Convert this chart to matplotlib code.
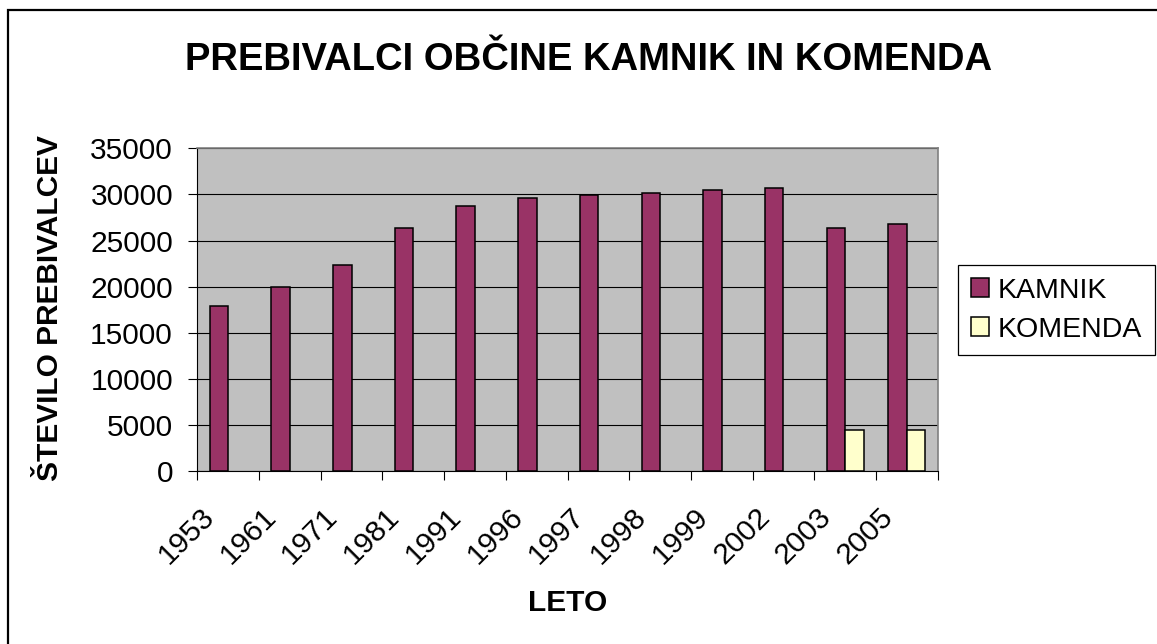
import numpy as np
import matplotlib
matplotlib.use("Agg")
import matplotlib.pyplot as plt
from matplotlib.transforms import blended_transform_factory, ScaledTranslation
from matplotlib.patches import Rectangle

years = ["1953", "1961", "1971", "1981", "1991", "1996", "1997", "1998", "1999", "2002", "2003", "2005"]
kamnik = [17900, 19950, 22350, 26400, 28700, 29650, 29900, 30100, 30500, 30700, 26400, 26800]
komenda = [np.nan, np.nan, np.nan, np.nan, np.nan, np.nan, np.nan, np.nan, np.nan, np.nan, 4450, 4450]
yticks = [0, 5000, 10000, 15000, 20000, 25000, 30000, 35000]

plt.rcParams['font.family'] = ['Liberation Sans', 'DejaVu Sans']

W, H = 1157, 644
fig = plt.figure(figsize=(W / 100, H / 100), dpi=100)
fig.patch.set_facecolor('white')

# figure border
fig.add_artist(Rectangle((8 / W, -0.05), 1.1, 1 - 10 / H + 0.05, transform=fig.transFigure,
                         fill=False, edgecolor='black', linewidth=1.6))

ax = fig.add_axes([197.3 / W, 1 - 471 / H, (937.7 - 197.3) / W, (471 - 148.3) / H])
ax.set_facecolor('#C0C0C0')
x = np.arange(len(years))
ax.bar(x - 0.15, kamnik, width=0.3, color='#993366', edgecolor='black', linewidth=1.1, zorder=3, label='KAMNIK')
ax.bar(x + 0.15, komenda, width=0.3, color='#FFFFCC', edgecolor='black', linewidth=1.1, zorder=3, label='KOMENDA')

ax.set_xlim(-0.5, len(years) - 0.5)
ax.set_ylim(0, 35000)
ax.set_yticks(yticks)
ax.set_yticklabels([str(v) for v in yticks], fontsize=21.5)
ax.yaxis.grid(True, color='black', linewidth=0.8, zorder=1)
ax.set_axisbelow(True)
ax.tick_params(axis='y', length=6.5, width=0.8, pad=11)

ax.set_xticks(np.arange(len(years) + 1) - 0.5)
ax.set_xticklabels([])
ax.tick_params(axis='x', length=6.5, width=0.8)

tr = blended_transform_factory(ax.transData, ax.transAxes) + ScaledTranslation(-13 / 72, -30 / 72, fig.dpi_scale_trans)
for xi, lab in zip(x, years):
    ax.text(xi, 0, lab, transform=tr, rotation=45, ha='right', va='center',
            rotation_mode='anchor', fontsize=21.5)

for s in ['left', 'bottom']:
    ax.spines[s].set_color('black')
    ax.spines[s].set_linewidth(0.8)
for s in ['top', 'right']:
    ax.spines[s].set_color('#808080')
    ax.spines[s].set_linewidth(1.2)

fig.text(589 / W, 1 - 60 / H, "PREBIVALCI OBČINE KAMNIK IN KOMENDA", ha='center', va='center',
         fontsize=27.5, fontweight='bold')
fig.text(50 / W, 1 - 308 / H, "ŠTEVILO PREBIVALCEV", rotation=90, ha='center', va='center',
         fontsize=21.5, fontweight='bold')
fig.text(568 / W, 1 - 603 / H, "LETO", ha='center', va='center', fontsize=21.5, fontweight='bold')

leg = fig.legend(loc='upper left', bbox_to_anchor=(958 / W, 1 - 265 / H), fontsize=20.5,
                 handlelength=0.65, handleheight=0.65, handletextpad=0.3, labelspacing=0.45,
                 borderpad=0.45, borderaxespad=0, fancybox=False, framealpha=1)
leg.get_frame().set_edgecolor('black')
leg.get_frame().set_linewidth(0.9)

fig.savefig('out.png', dpi=100)
